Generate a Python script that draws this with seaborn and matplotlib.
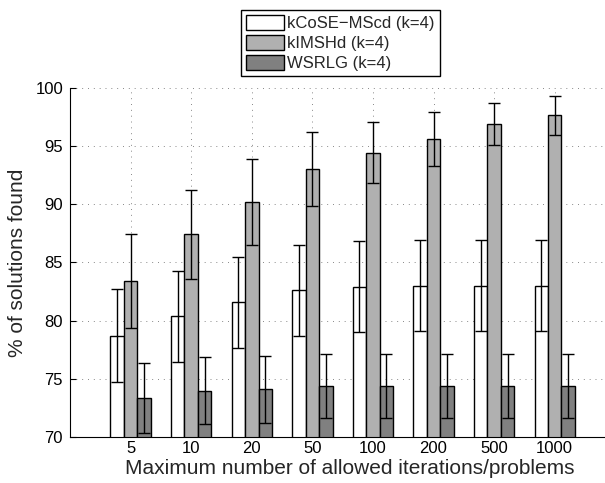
import numpy as np
import pandas as pd
import seaborn as sns
import matplotlib.pyplot as plt

# iteration limits on the x axis
iterations = ['5', '10', '20', '50', '100', '200', '500', '1000']

# mean % of solutions found, per method
kcose_mean = [78.7, 80.4, 81.6, 82.6, 82.9, 83.0, 83.0, 83.0]
kimshd_mean = [83.4, 87.4, 90.2, 93.0, 94.4, 95.6, 96.9, 97.6]
wsrlg_mean = [73.4, 74.0, 74.1, 74.4, 74.4, 74.4, 74.4, 74.4]

# half-length of the error bars
kcose_err = [4.0, 3.9, 3.9, 3.9, 3.9, 3.9, 3.9, 3.9]
kimshd_err = [4.0, 3.8, 3.7, 3.2, 2.6, 2.3, 1.8, 1.65]
wsrlg_err = [3.0, 2.9, 2.9, 2.75, 2.75, 2.75, 2.75, 2.75]

methods = ['kCoSE\u2212MScd (k=4)', 'kIMSHd (k=4)', 'WSRLG (k=4)']
colors = ['#ffffff', '#b0b0b0', '#808080']

means = [kcose_mean, kimshd_mean, wsrlg_mean]
errs = [kcose_err, kimshd_err, wsrlg_err]

df = pd.DataFrame({
    'iterations': iterations * 3,
    'method': np.repeat(methods, len(iterations)),
    'value': np.concatenate(means),
})

sns.set_style('white')
plt.rcParams['font.family'] = ['Liberation Sans', 'DejaVu Sans']

fig = plt.figure(figsize=(6.05, 4.83), dpi=100)
ax = fig.add_axes([70 / 605, 45.7 / 483, 535 / 605, 349.8 / 483])

sns.barplot(data=df, x='iterations', y='value', hue='method',
            order=iterations, hue_order=methods, palette=colors,
            width=0.667, errorbar=None, edgecolor='black', linewidth=1,
            saturation=1, legend=False, ax=ax, zorder=2)

# error bars on top of each bar
for container, err in zip(ax.containers, errs):
    xs = [p.get_x() + p.get_width() / 2 for p in container.patches]
    ys = [p.get_height() for p in container.patches]
    ax.errorbar(xs, ys, yerr=err, fmt='none', ecolor='black',
                elinewidth=1, capsize=4, capthick=1, zorder=3)

ax.set_ylim(70, 100)
ax.set_xlim(-1, 7.83)
ax.set_yticks([70, 75, 80, 85, 90, 95, 100])
ax.grid(True, linestyle=(0, (1, 5)), color='#888888', linewidth=0.7, zorder=0)
ax.set_axisbelow(True)

for side in ['top', 'right']:
    ax.spines[side].set_visible(False)
for side in ['left', 'bottom']:
    ax.spines[side].set_color('black')
    ax.spines[side].set_linewidth(0.8)

ax.tick_params(axis='both', direction='in', length=4, width=0.8,
               labelsize=12, colors='black', left=True, bottom=True)
ax.tick_params(axis='x', pad=3)
ax.tick_params(axis='y', pad=5)

ax.set_xlabel('Maximum number of allowed iterations/problems', fontsize=15)
ax.set_ylabel('% of solutions found', fontsize=15)
ax.xaxis.set_label_coords(0.523, -0.062)
ax.yaxis.set_label_coords(-0.080, 0.5)

handles = [plt.Rectangle((0, 0), 1, 1, facecolor=c, edgecolor='black', linewidth=1)
           for c in colors]
leg = fig.legend(handles, methods, loc='upper left',
                 bbox_to_anchor=(241 / 605, 1 - 10 / 483),
                 fontsize=12, frameon=True, fancybox=False, framealpha=1,
                 edgecolor='black', borderpad=0.3, borderaxespad=0,
                 handlelength=2.28, handleheight=1.0, labelspacing=0.23,
                 handletextpad=0.18)
leg.get_frame().set_linewidth(1)

fig.savefig('out.png', dpi=100)
